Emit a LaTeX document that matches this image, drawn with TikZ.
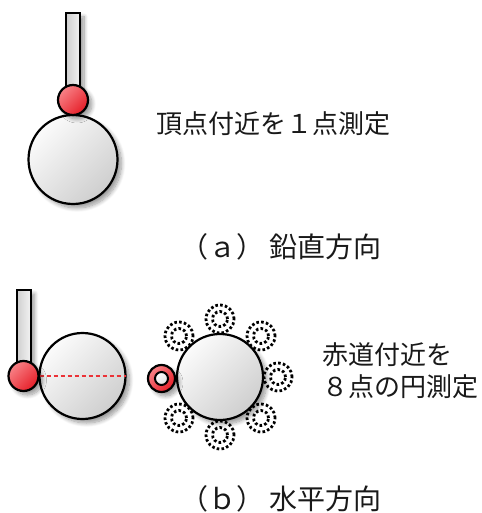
\documentclass[tikz,border=0pt]{standalone}
\usepackage{fontspec}
\newfontfamily\jp{Noto Sans CJK JP}
\usetikzlibrary{shadows.blur}

\definecolor{tipred}{RGB}{230,30,40}
\definecolor{tiplight}{RGB}{248,130,135}
\definecolor{cutred}{RGB}{235,50,55}

\begin{document}
\begin{tikzpicture}[x=1pt,y=-1pt,
  sh/.style={blur shadow={shadow xshift=4pt,shadow yshift=-4pt,
      shadow blur steps=10,shadow opacity=40,shadow blur radius=4pt}},
  sphere/.style={circle,draw=black,line width=2.2pt,inner sep=0pt,outer sep=0pt,
      minimum size=#1,top color=gray!3,bottom color=gray!38,shading angle=45,sh},
  tipball/.style={circle,draw=black,line width=2.2pt,inner sep=0pt,outer sep=0pt,
      minimum size=#1,top color=tiplight,bottom color=tipred,shading angle=45,sh},
  stemrod/.style={rectangle,draw=black,line width=2pt,inner sep=0pt,outer sep=0pt,
      minimum width=14pt,minimum height=#1,left color=gray!38,right color=gray!10,sh},
  ring/.style={circle,draw=black,line width=2.8pt,dash pattern=on 2.6pt off 2.2pt,
      inner sep=0pt,outer sep=0pt,minimum size=#1},
  lbl/.style={font=\jp\fontsize{26}{32}\selectfont,text=black!90,inner sep=0pt,anchor=west},
  caption/.style={font=\jp\fontsize{28}{32}\selectfont,text=black!90,inner sep=0pt,anchor=west}
]
\useasboundingbox (0,0) rectangle (481,513);

% (a) vertical probing: one point near the top
\node[sphere=89pt] (globeA) at (73,159.5) {};
\node[stemrod=87pt] (stemA) at (73,56.5) {};
\node[tipball=30pt] (tipA) at (73,100) {};
\node[lbl] (txtA) at (156,124) {頂点付近を１点測定};
\node[caption] (capA) at (180,247) {（ａ）\hspace{5pt}鉛直方向};

% (b) horizontal probing: equator section
\node[sphere=86pt] (globeB) at (82.5,376) {};
\draw[cutred,line width=1.4pt,dash pattern=on 4pt off 3pt] (globeB.west) -- (globeB.east);
\node[stemrod=86pt] (stemB) at (23.5,333) {};
\node[tipball=30pt] (tipB) at (23.5,376) {};

% eight probing points around the equator
\node[sphere=86pt] (globeC) at (220,377) {};
\foreach \a [count=\i] in {90,45,0,-45,-90,-135,135}{
  \node[ring=28pt] (ro\i) at ($(globeC)+(\a:58)$) {};
  \node[ring=15pt] (ri\i) at (ro\i) {};
}
\node[tipball=27pt] (probe) at (161.5,378.5) {};
\node[circle,draw=black,line width=2pt,inner sep=0pt,minimum size=13pt,
      top color=white,bottom color=gray!25,shading angle=45] (probeIn) at (probe) {};

\node[lbl,align=left] (txtB) at (322,371) {赤道付近を\\８点の円測定};
\node[caption] (capB) at (180,499) {（ｂ）\hspace{5pt}水平方向};
\end{tikzpicture}
\end{document}
